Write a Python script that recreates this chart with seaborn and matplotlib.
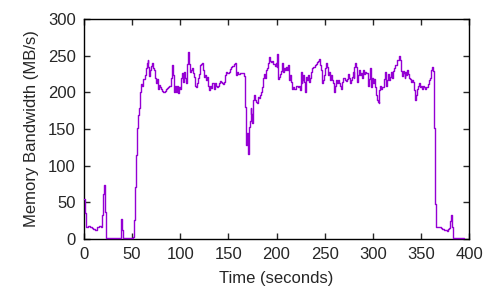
import numpy as np
import pandas as pd
import seaborn as sns
import matplotlib
matplotlib.use("Agg")
import matplotlib.pyplot as plt

bw_0_55 = [54, 36, 17, 16, 18, 18, 17, 16, 15, 14, 14, 13, 13, 15, 17, 17, 18, 18, 17, 33,
           61, 74, 37, 1, 1, 1, 1, 1, 1, 1, 1, 1, 1, 1, 1, 1, 1, 1, 27, 13,
           1, 1, 1, 1, 1, 1, 1, 1, 1, 1, 1, 3, 26, 71, 114, 151]
bw_56_139 = [169, 179, 200, 211, 209, 218, 218, 223, 233, 240, 244, 235, 222, 230, 236, 240, 233, 230, 219, 212,
             218, 204, 210, 207, 205, 202, 200, 200, 202, 204, 206, 207, 208, 209, 220, 237, 223, 209, 201, 209,
             200, 209, 199, 207, 205, 219, 226, 214, 228, 219, 213, 239, 255, 238, 228, 230, 233, 226, 221, 209,
             207, 212, 219, 225, 230, 237, 239, 240, 230, 221, 224, 217, 221, 209, 203, 209, 206, 212, 212, 205,
             212, 209, 207, 208]
bw_140_229 = [212, 216, 214, 213, 211, 214, 219, 223, 228, 226, 226, 228, 232, 235, 236, 236, 238, 240, 224, 227,
              225, 225, 226, 226, 226, 226, 222, 180, 128, 144, 116, 153, 161, 178, 171, 158, 190, 196, 190, 187,
              185, 194, 192, 196, 201, 207, 219, 225, 220, 230, 233, 240, 248, 242, 241, 242, 239, 238, 236, 240,
              235, 252, 218, 221, 225, 229, 240, 228, 233, 230, 235, 230, 237, 217, 224, 214, 205, 207, 205, 204,
              209, 208, 207, 209, 203, 228, 213, 217, 224, 214]
bw_230_319 = [200, 221, 217, 224, 214, 220, 227, 233, 235, 235, 237, 239, 241, 242, 245, 237, 230, 212, 217, 224,
              233, 240, 235, 227, 224, 228, 217, 224, 217, 212, 201, 209, 217, 212, 217, 212, 209, 205, 214, 219,
              220, 217, 216, 218, 225, 219, 213, 217, 221, 227, 219, 235, 240, 235, 214, 224, 231, 224, 226, 220,
              230, 225, 227, 226, 226, 209, 218, 233, 207, 219, 212, 218, 207, 196, 190, 187, 185, 203, 209, 204,
              207, 207, 218, 228, 209, 217, 225, 217, 221, 227]
bw_320_395 = [220, 229, 233, 237, 237, 244, 244, 249, 244, 229, 222, 229, 226, 220, 228, 224, 231, 225, 219, 218,
              214, 217, 214, 203, 190, 196, 204, 209, 212, 207, 209, 205, 209, 207, 205, 207, 207, 211, 217, 219,
              226, 230, 234, 229, 151, 48, 16, 16, 16, 16, 16, 15, 14, 14, 13, 12, 12, 11, 14, 15,
              24, 33, 17, 1, 1, 1, 1, 1, 1, 1, 1, 1, 1, 1, 1, 1]

bandwidth = bw_0_55 + bw_56_139 + bw_140_229 + bw_230_319 + bw_320_395
seconds = list(range(len(bandwidth)))

df = pd.DataFrame({"Time": seconds, "Bandwidth": bandwidth})

sns.set_style("ticks")
plt.rcParams["font.family"] = ["Liberation Sans", "DejaVu Sans"]

fig = plt.figure(figsize=(5, 3), dpi=100)
ax = fig.add_axes([0.168, 0.203, 0.77, 0.734])
sns.lineplot(x="Time", y="Bandwidth", data=df, ax=ax, color="#9400D3",
             linewidth=1.0, drawstyle="steps-post", zorder=5, clip_on=False)

ax.set_xlim(0, 400)
ax.set_ylim(0, 300)
ax.set_xticks(range(0, 401, 50))
ax.set_yticks(range(0, 301, 50))
ax.tick_params(direction="in", length=4, width=1, labelsize=12, top=True, right=True, pad=6)
for s in ax.spines.values():
    s.set_linewidth(1)
    s.set_color("black")
    s.set_zorder(1)
ax.set_xlabel("Time (seconds)", fontsize=12, labelpad=6)
ax.set_ylabel("Memory Bandwidth (MB/s)", fontsize=12, labelpad=6)

fig.savefig("out.png", dpi=100)
